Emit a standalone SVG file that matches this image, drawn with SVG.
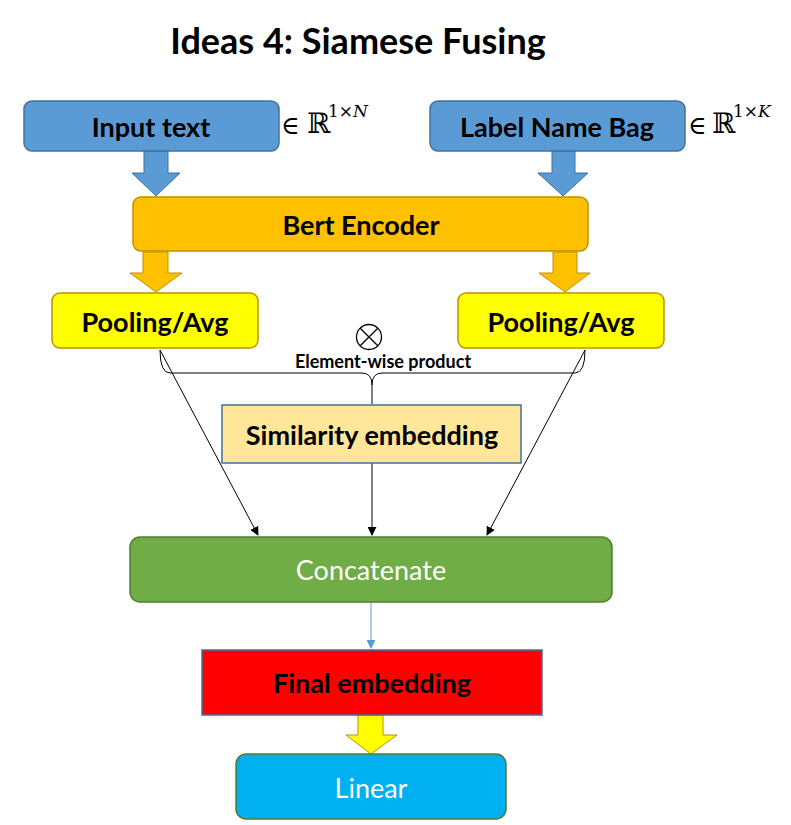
<svg xmlns="http://www.w3.org/2000/svg" width="791" height="825" viewBox="0 0 791 825">
<style>
.t{font-family:Lato,"Open Sans","Liberation Sans",sans-serif;text-anchor:middle;dominant-baseline:central}
.b{font-weight:bold;fill:#000}
.w{fill:#fff;font-weight:normal}
.m{font-family:"DejaVu Serif","Liberation Serif",serif;fill:#000}
.ln{stroke:#000;stroke-width:1;fill:none}
</style>
<defs>
<marker id="ah" viewBox="0 0 10 10" refX="9" refY="5" markerWidth="9" markerHeight="9" markerUnits="userSpaceOnUse" orient="auto"><path d="M0,0 L10,5 L0,10 z" fill="#000"/></marker>
<marker id="ahb" viewBox="0 0 10 10" refX="9" refY="5" markerWidth="9" markerHeight="9" markerUnits="userSpaceOnUse" orient="auto"><path d="M0,0 L10,5 L0,10 z" fill="#5b9bd5"/></marker>
</defs>
<rect width="791" height="825" fill="#fff"/>
<text class="t b" x="358" y="40" font-size="36">Ideas 4: Siamese Fusing</text>

<g id="connectors">
<path d="M144,151 H168 V173 H180 L156,196 L132,173 H144 Z" fill="#5b9bd5" stroke="#41719c" stroke-width="1"/>
<path d="M552,151 H575 V173 H588 L563,196 L538,173 H552 Z" fill="#5b9bd5" stroke="#41719c" stroke-width="1"/>
<path d="M143,252 H168 V273 H182 L156,292 L130,273 H143 Z" fill="#ffc000" stroke="#bf9000" stroke-width="1"/>
<path d="M553,252 H577 V273 H590 L565,292 L539,273 H553 Z" fill="#ffc000" stroke="#bf9000" stroke-width="1"/>
<path d="M160,350 Q160,373 170,373 H362 Q372,373 372,385 Q372,373 382,373 H575 Q585,373 585,350" class="ln"/>
<line x1="372" y1="385" x2="372" y2="404" class="ln"/>
<line x1="160" y1="350" x2="258" y2="535" class="ln" marker-end="url(#ah)"/>
<line x1="372" y1="463" x2="372" y2="535" class="ln" marker-end="url(#ah)"/>
<line x1="585" y1="350" x2="487" y2="535" class="ln" marker-end="url(#ah)"/>
<line x1="371" y1="602" x2="371" y2="648" stroke="#5b9bd5" stroke-width="1" marker-end="url(#ahb)"/>
<path d="M358,715 H383 V735 H397 L371,754 L346,735 H358 Z" fill="#ffff00" stroke="#bf9000" stroke-width="1"/>
</g>

<g id="input-text">
<rect x="24" y="101" width="255" height="50" rx="8" fill="#5b9bd5" stroke="#41719c" stroke-width="1.5"/>
<text class="t b" x="151" y="126" font-size="27">Input text</text>
<text class="m" x="281" y="134" font-size="25">∈</text>
<text class="m" x="307" y="133" font-size="28">ℝ</text>
<text class="m" x="328" y="117" font-size="17">1×<tspan font-style="italic">N</tspan></text>
</g>

<g id="label-name-bag">
<rect x="430" y="101" width="255" height="50" rx="8" fill="#5b9bd5" stroke="#41719c" stroke-width="1.5"/>
<text class="t b" x="557" y="126" font-size="27">Label Name Bag</text>
<text class="m" x="688" y="134" font-size="25">∈</text>
<text class="m" x="712" y="133" font-size="28">ℝ</text>
<text class="m" x="733" y="117" font-size="17">1×<tspan font-style="italic">K</tspan></text>
</g>

<g id="bert-encoder">
<rect x="133" y="197" width="455" height="54" rx="8" fill="#ffc000" stroke="#bf9000" stroke-width="1.5"/>
<text class="t b" x="361" y="224" font-size="27">Bert Encoder</text>
</g>

<g id="pooling-left">
<rect x="52" y="293" width="206" height="55" rx="8" fill="#ffff00" stroke="#bf9000" stroke-width="1.5"/>
<text class="t b" x="155" y="321" font-size="27">Pooling/Avg</text>
</g>

<g id="pooling-right">
<rect x="458" y="293" width="206" height="55" rx="8" fill="#ffff00" stroke="#bf9000" stroke-width="1.5"/>
<text class="t b" x="561" y="321" font-size="27">Pooling/Avg</text>
</g>

<g id="element-wise">
<circle cx="369" cy="337" r="12.5" fill="none" stroke="#000" stroke-width="1.3"/>
<line x1="360.2" y1="328.2" x2="377.8" y2="345.8" stroke="#000" stroke-width="1.3"/>
<line x1="377.8" y1="328.2" x2="360.2" y2="345.8" stroke="#000" stroke-width="1.3"/>
<text class="t b" x="383" y="361" font-size="18">Element-wise product</text>
</g>

<g id="similarity-embedding">
<rect x="222" y="405" width="299" height="58" fill="#ffe699" stroke="#41719c" stroke-width="1.5"/>
<text class="t b" x="372" y="434" font-size="27">Similarity embedding</text>
</g>

<g id="concatenate">
<rect x="130" y="537" width="482" height="65" rx="10" fill="#70ad47" stroke="#507e32" stroke-width="1.5"/>
<text class="t w" x="371" y="569" font-size="27">Concatenate</text>
</g>

<g id="final-embedding">
<rect x="202" y="650" width="340" height="65" fill="#ff0000" stroke="#41719c" stroke-width="1.5"/>
<text class="t b" x="372" y="682" font-size="27">Final embedding</text>
</g>

<g id="linear">
<rect x="236" y="754" width="270" height="65" rx="10" fill="#00b0f0" stroke="#507e32" stroke-width="1.5"/>
<text class="t w" x="371" y="787" font-size="27">Linear</text>
</g>
</svg>
